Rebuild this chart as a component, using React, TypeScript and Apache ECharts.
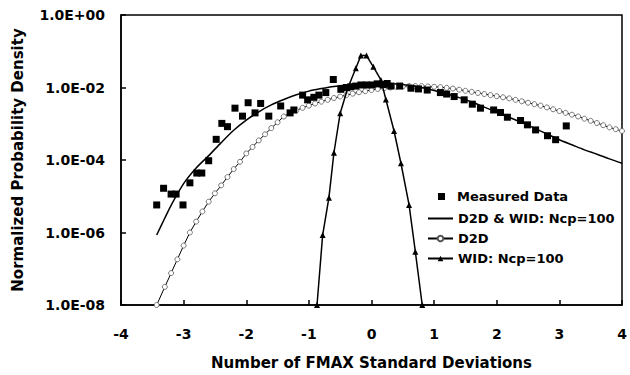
import React, { useEffect, useRef } from "react";
import * as echarts from "echarts";

// Measured data (x in std deviations, log10 of density)
const measuredX = [-3.43, -3.32, -3.2, -3.12, -3.01, -2.9, -2.79, -2.71, -2.6, -2.48, -2.39, -2.3, -2.18, -2.06, -1.97, -1.86, -1.77, -1.64, -1.45, -1.3, -1.24, -1.1, -1.02, -0.92, -0.84, -0.73, -0.61, -0.49, -0.4, -0.33, -0.25, -0.17, -0.08, 0.01, 0.09, 0.19, 0.25, 0.31, 0.45, 0.63, 0.75, 0.89, 1.1, 1.2, 1.32, 1.48, 1.61, 1.74, 1.95, 2.06, 2.17, 2.38, 2.49, 2.62, 2.81, 2.94, 3.11];
const measuredLog10 = [-5.24, -4.78, -4.94, -4.94, -5.24, -4.63, -4.36, -4.36, -4.02, -3.43, -2.99, -3.08, -2.57, -2.79, -2.42, -2.7, -2.44, -2.79, -2.51, -2.7, -2.62, -2.21, -2.34, -2.27, -2.21, -2.14, -1.78, -2.05, -2.0, -1.98, -1.96, -1.93, -1.93, -1.93, -1.9, -1.92, -1.89, -1.96, -1.96, -2.02, -2.04, -2.07, -2.14, -2.18, -2.25, -2.34, -2.46, -2.57, -2.62, -2.69, -2.82, -2.91, -3.03, -3.17, -3.33, -3.44, -3.06];

// D2D & WID: Ncp=100 (solid line)
const combX = [-3.43, -3.3, -3.2, -3.0, -2.8, -2.6, -2.4, -2.2, -2.0, -1.8, -1.6, -1.4, -1.2, -1.0, -0.8, -0.6, -0.4, -0.2, 0.0, 0.2, 0.4, 0.6, 0.8, 1.0, 1.2, 1.4, 1.6, 1.8, 2.0, 2.2, 2.4, 2.6, 2.8, 3.0, 3.2, 3.4, 3.6, 3.8, 4.0];
const combLog10 = [-6.07, -5.6, -5.25, -4.65, -4.22, -3.88, -3.52, -3.18, -2.9, -2.67, -2.48, -2.33, -2.2, -2.1, -2.03, -1.97, -1.93, -1.9, -1.88, -1.88, -1.9, -1.94, -2.0, -2.08, -2.17, -2.28, -2.4, -2.54, -2.68, -2.82, -2.97, -3.12, -3.28, -3.44, -3.58, -3.72, -3.84, -3.97, -4.09];

// D2D (line with open circles)
const d2dX = [-3.43, -3.3, -3.2, -3.1, -3.0, -2.9, -2.8, -2.7, -2.6, -2.5, -2.4, -2.3, -2.2, -2.1, -2.0, -1.9, -1.8, -1.7, -1.6, -1.5, -1.4, -1.3, -1.2, -1.1, -1.0, -0.9, -0.8, -0.7, -0.6, -0.5, -0.4, -0.3, -0.2, -0.1, 0.0, 0.1, 0.2, 0.3, 0.4, 0.5, 0.6, 0.7, 0.8, 0.9, 1.0, 1.1, 1.2, 1.3, 1.4, 1.5, 1.6, 1.7, 1.8, 1.9, 2.0, 2.1, 2.2, 2.3, 2.4, 2.5, 2.6, 2.7, 2.8, 2.9, 3.0, 3.1, 3.2, 3.3, 3.4, 3.5, 3.6, 3.7, 3.8, 3.9, 4.0];
const d2dLog10 = [-8.0, -7.5, -7.12, -6.74, -6.36, -6.0, -5.7, -5.42, -5.15, -4.92, -4.7, -4.47, -4.25, -4.05, -3.82, -3.64, -3.46, -3.29, -3.12, -2.96, -2.8, -2.71, -2.63, -2.56, -2.5, -2.44, -2.39, -2.34, -2.29, -2.25, -2.21, -2.17, -2.13, -2.1, -2.07, -2.04, -2.02, -2.0, -1.98, -1.97, -1.96, -1.96, -1.96, -1.97, -1.98, -1.99, -2.01, -2.03, -2.06, -2.09, -2.12, -2.15, -2.18, -2.21, -2.24, -2.27, -2.3, -2.34, -2.38, -2.42, -2.46, -2.5, -2.55, -2.6, -2.65, -2.7, -2.75, -2.8, -2.86, -2.92, -2.98, -3.04, -3.1, -3.15, -3.2];

// WID: Ncp=100 (line with triangles)
const widX = [-0.87, -0.78, -0.68, -0.6, -0.5, -0.38, -0.25, -0.17, -0.08, 0.03, 0.15, 0.23, 0.36, 0.47, 0.6, 0.7, 0.81];
const widLog10 = [-8.0, -6.07, -5.04, -3.8, -2.71, -2.02, -1.47, -1.12, -1.12, -1.43, -1.79, -2.33, -3.2, -4.09, -5.24, -6.53, -8.0];

const yTickLabels = ["1.0E-08", "1.0E-06", "1.0E-04", "1.0E-02", "1.0E+00"];

const seriesNames = ["Measured Data", "D2D & WID: Ncp=100", "D2D", "WID: Ncp=100"];

const FONT = "'DejaVu Sans', Arial, sans-serif";

const toPairs = (xs: number[], logs: number[]) => xs.map((x, i) => [x, Math.pow(10, logs[i])]);

export default function App() {
  const ref = useRef<HTMLDivElement>(null);
  useEffect(() => {
    if (!ref.current) return;
    const chart = echarts.init(ref.current, undefined, { renderer: "svg" });
    const fmt = (v: number) => {
      const e = Math.round(Math.log10(v));
      const idx = (e + 8) / 2;
      return yTickLabels[idx] ?? "";
    };
    const legendText = { color: "#000", fontFamily: FONT, fontWeight: "bold" as const, fontSize: 13 };
    chart.setOption({
      animation: false,
      backgroundColor: "#fff",
      grid: { left: 121, right: 8, top: 15, bottom: 70, show: true, borderColor: "#000", borderWidth: 1.5 },
      legend: [
        {
          data: [seriesNames[0]],
          orient: "vertical",
          left: 438,
          top: 190,
          padding: 0,
          itemWidth: 7,
          itemHeight: 7,
          textStyle: { ...legendText, padding: [0, 0, 0, 7] },
        },
        {
          data: [
            { name: seriesNames[1], itemStyle: { opacity: 0 } },
            { name: seriesNames[2] },
            { name: seriesNames[3] },
          ],
          orient: "vertical",
          left: 427,
          top: 212,
          padding: 0,
          itemWidth: 25,
          itemHeight: 7,
          itemGap: 7,
          textStyle: legendText,
        },
      ],
      xAxis: {
        type: "value",
        min: -4,
        max: 4,
        interval: 1,
        axisLine: { show: true, onZero: false, lineStyle: { color: "#000", width: 1.5 } },
        axisTick: { show: true, inside: true, length: 5, lineStyle: { color: "#000", width: 1.5 } },
        axisLabel: { color: "#000", fontFamily: FONT, fontWeight: "bold", fontSize: 14, margin: 22 },
        splitLine: { show: false },
        name: "Number of FMAX Standard Deviations",
        nameLocation: "middle",
        nameGap: 50,
        nameTextStyle: { color: "#000", fontFamily: FONT, fontWeight: "bold", fontSize: 15 },
      },
      yAxis: {
        type: "log",
        logBase: 10,
        min: 1e-8,
        max: 1,
        interval: 2,
        axisLine: { show: true, onZero: false, lineStyle: { color: "#000", width: 1.5 } },
        axisTick: { show: true, inside: true, length: 5, lineStyle: { color: "#000", width: 1.5 } },
        axisLabel: { color: "#000", fontFamily: FONT, fontWeight: "bold", fontSize: 14, margin: 16, formatter: fmt },
        splitLine: { show: false },
        name: "Normalized Probability Density",
        nameLocation: "middle",
        nameGap: 96,
        nameTextStyle: { color: "#000", fontFamily: FONT, fontWeight: "bold", fontSize: 15 },
      },
      series: [
        {
          name: seriesNames[2],
          type: "line",
          data: toPairs(d2dX, d2dLog10),
          symbol: "circle",
          symbolSize: 5,
          showSymbol: true,
          lineStyle: { color: "#000", width: 1 },
          itemStyle: { color: "#fff", borderColor: "#555", borderWidth: 0.8 },
          z: 2,
        },
        {
          name: seriesNames[1],
          type: "line",
          data: toPairs(combX, combLog10),
          smooth: 0.3,
          symbol: "none",
          showSymbol: false,
          lineStyle: { color: "#000", width: 1.5 },
          itemStyle: { color: "#000" },
          z: 3,
        },
        {
          name: seriesNames[3],
          type: "line",
          data: toPairs(widX, widLog10),
          symbol: "triangle",
          symbolSize: 6,
          lineStyle: { color: "#000", width: 1.5 },
          itemStyle: { color: "#000" },
          z: 4,
        },
        {
          name: seriesNames[0],
          type: "scatter",
          data: toPairs(measuredX, measuredLog10),
          symbol: "rect",
          symbolSize: 7,
          itemStyle: { color: "#000", opacity: 1 },
          z: 5,
        },
      ],
    });
    return () => chart.dispose();
  }, []);
  return <div ref={ref} style={{ position: "fixed", left: 0, top: 0, width: 630, height: 375 }} />;
}
